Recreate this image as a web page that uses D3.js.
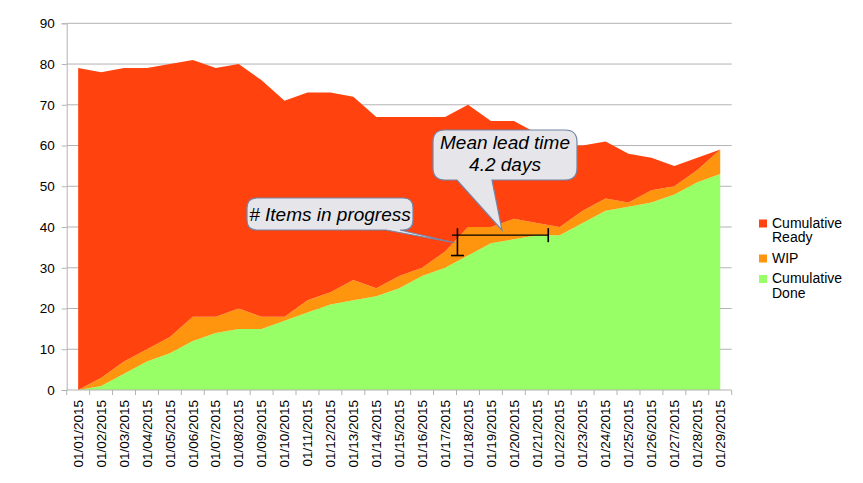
<!DOCTYPE html>
<html>
<head>
<meta charset="utf-8">
<script src="https://cdn.jsdelivr.net/npm/d3@7"></script>
<style>
  html, body { margin: 0; padding: 0; background: #fff; }
  svg { display: block; font-family: "Liberation Sans", Arial, sans-serif; }
</style>
</head>
<body>
<svg id="chart" width="863" height="483"></svg>
<script>
// ---- data ----
const categories = ["01/01/2015","01/02/2015","01/03/2015","01/04/2015","01/05/2015","01/06/2015","01/07/2015","01/08/2015","01/09/2015","01/10/2015","01/11/2015","01/12/2015","01/13/2015","01/14/2015","01/15/2015","01/16/2015","01/17/2015","01/18/2015","01/19/2015","01/20/2015","01/21/2015","01/22/2015","01/23/2015","01/24/2015","01/25/2015","01/26/2015","01/27/2015","01/28/2015","01/29/2015"];
const doneValues  = [0,1,4,7,9,12,14,15,15,17,19,21,22,23,25,28,30,33,36,37,38,38,41,44,45,46,48,51,53];
const wipValues   = [0,2,3,3,4,6,4,5,3,1,3,3,5,2,3,2,4,7,4,5,3,2,3,3,1,3,2,3,6];
const readyValues = [79,75,72,69,67,63,61,60,58,53,51,49,45,42,39,37,33,30,26,24,22,20,16,14,12,8,5,3,0];
const seriesNames = ["Cumulative Ready", "WIP", "Cumulative Done"];
const seriesColors = ["#ff420e", "#ff950e", "#99ff66"];
const yTicks = [0,10,20,30,40,50,60,70,80,90];
// annotations (data space: category index, value)
const wipMarker = { at: 16.54, from: 33, to: 39.7 };
const leadTimeBar = { from: 16.3, to: 20.5, value: 38 };
const calloutItems = "# Items in progress";
const calloutLead = ["Mean lead time", "4.2 days"];

// ---- layout ----
const svg = d3.select("#chart");
const mLeft = 66.7, mRight = 731.7, mTop = 23.3, mBottom = 390;

const x = d3.scaleBand().domain(categories).range([mLeft, mRight]).padding(0);
const y = d3.scaleLinear().domain([0, 90]).range([mBottom, mTop]);
const cx = c => x(c) + x.bandwidth() / 2;
const xi = i => mLeft + x.step() * (i + 0.5);

const table = categories.map((c, i) => ({ cat: c, done: doneValues[i], wip: wipValues[i], ready: readyValues[i] }));
const stack = d3.stack().keys(["done", "wip", "ready"]);
const layers = stack(table);
const colorByKey = { ready: seriesColors[0], wip: seriesColors[1], done: seriesColors[2] };

// gridlines
svg.append("g").selectAll("line").data(yTicks.filter(t => t > 0)).join("line")
  .attr("x1", mLeft).attr("x2", mRight)
  .attr("y1", d => y(d)).attr("y2", d => y(d))
  .attr("stroke", "#b3b3b3").attr("stroke-width", 1);

// areas
const area = d3.area()
  .x(d => cx(d.data.cat))
  .y0(d => y(d[0]))
  .y1(d => y(d[1]));
svg.append("g").selectAll("path").data(layers).join("path")
  .attr("d", area)
  .attr("fill", d => colorByKey[d.key]);

// y axis
const yAxis = d3.axisLeft(y).tickValues(yTicks).tickSize(5).tickPadding(7);
const gy = svg.append("g").attr("transform", `translate(${mLeft},0)`).call(yAxis);
gy.select(".domain").attr("stroke", "#b3b3b3");
gy.selectAll(".tick line").attr("stroke", "#b3b3b3");
gy.selectAll(".tick text").attr("font-size", "13.5px").attr("fill", "#000")
  .attr("font-family", "Liberation Sans, Arial, sans-serif");

// x axis (category ticks at boundaries)
const gx = svg.append("g");
gx.append("line").attr("x1", mLeft).attr("x2", mRight).attr("y1", mBottom).attr("y2", mBottom).attr("stroke", "#b3b3b3");
const bounds = categories.map(c => x(c)).concat([mRight]);
gx.selectAll("line.tk").data(bounds).join("line").attr("class", "tk")
  .attr("x1", d => d).attr("x2", d => d).attr("y1", mBottom).attr("y2", mBottom + 5)
  .attr("stroke", "#b3b3b3");
gx.selectAll("text").data(categories).join("text")
  .attr("transform", d => `translate(${cx(d)},${mBottom + 10}) rotate(-90)`)
  .attr("text-anchor", "end").attr("dy", "0.35em")
  .attr("font-size", "13.5px").attr("fill", "#000")
  .text(d => d);

// annotation marks
const ann = svg.append("g").attr("stroke", "#000").attr("stroke-width", 1.6);
ann.append("line").attr("x1", xi(wipMarker.at)).attr("x2", xi(wipMarker.at))
  .attr("y1", y(wipMarker.to)).attr("y2", y(wipMarker.from));
ann.append("line").attr("x1", xi(wipMarker.at) - 6.5).attr("x2", xi(wipMarker.at) + 6.5)
  .attr("y1", y(wipMarker.from)).attr("y2", y(wipMarker.from));
ann.append("line").attr("x1", xi(leadTimeBar.from)).attr("x2", xi(leadTimeBar.to))
  .attr("y1", y(leadTimeBar.value)).attr("y2", y(leadTimeBar.value)).attr("stroke-width", 1.3);
ann.append("line").attr("x1", xi(leadTimeBar.to)).attr("x2", xi(leadTimeBar.to))
  .attr("y1", y(leadTimeBar.value) - 7).attr("y2", y(leadTimeBar.value) + 7);

// callouts
function callout(bx, by, bw, bh, r, t1, t2, tip) {
  const p = d3.path();
  p.moveTo(bx + r, by);
  p.lineTo(bx + bw - r, by);
  p.quadraticCurveTo(bx + bw, by, bx + bw, by + r);
  p.lineTo(bx + bw, by + bh - r);
  p.quadraticCurveTo(bx + bw, by + bh, bx + bw - r, by + bh);
  p.lineTo(t2, by + bh);
  p.lineTo(tip[0], tip[1]);
  p.lineTo(t1, by + bh);
  p.lineTo(bx + r, by + bh);
  p.quadraticCurveTo(bx, by + bh, bx, by + bh - r);
  p.lineTo(bx, by + r);
  p.quadraticCurveTo(bx, by, bx + r, by);
  p.closePath();
  return p.toString();
}
const cg = svg.append("g");
cg.append("path")
  .attr("d", callout(247, 198, 166, 32, 10, 386, 400, [xi(wipMarker.at) - 3, y(wipMarker.to) - 0.5 + 15]))
  .attr("fill", "#e6e6ea").attr("stroke", "#7585a8").attr("stroke-width", 1.2);
cg.append("text").attr("x", 330).attr("y", 221)
  .attr("text-anchor", "middle").attr("font-size", "19px").attr("font-style", "italic").attr("fill", "#000")
  .text(calloutItems);
cg.append("path")
  .attr("d", callout(433, 130, 144, 50, 12, 457, 492, [502, y(leadTimeBar.value) - 5]))
  .attr("fill", "#e6e6ea").attr("stroke", "#7585a8").attr("stroke-width", 1.2);
cg.selectAll("text.lead").data(calloutLead).join("text").attr("class", "lead")
  .attr("x", 505).attr("y", (d, i) => 148.5 + i * 22)
  .attr("text-anchor", "middle").attr("font-size", "19px").attr("font-style", "italic").attr("fill", "#000")
  .text(d => d);

// legend
const legendItems = seriesNames.map((n, i) => ({ name: n, color: seriesColors[i] }));
const legendY = [219.5, 254.5, 275];
const lg = svg.append("g");
legendItems.forEach((it, i) => {
  const g = lg.append("g").attr("transform", `translate(759,${legendY[i]})`);
  g.append("rect").attr("width", 8).attr("height", 8).attr("fill", it.color);
  const words = it.name.split(" ");
  g.selectAll("text").data(words).join("text")
    .attr("x", 13).attr("y", (d, j) => 8.3 + j * 14.5)
    .attr("font-size", "14px").attr("fill", "#000")
    .text(d => d);
});
</script>
</body>
</html>
